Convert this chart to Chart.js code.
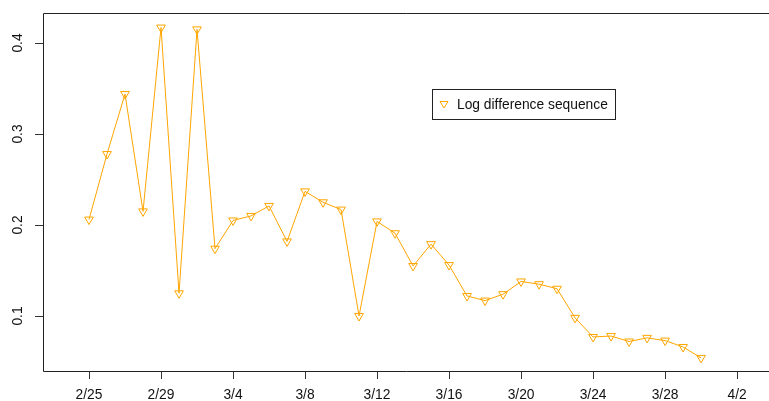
<!DOCTYPE html>
<html>
<head>
<meta charset="utf-8">
<script src="https://cdn.jsdelivr.net/npm/chart.js@4.4.1/dist/chart.umd.min.js"></script>
<style>
html, body { margin: 0; padding: 0; background: #fff; }
canvas { display: block; }
</style>
</head>
<body>
<canvas id="myChart" width="769" height="401"></canvas>
<script>
// dates of the log difference sequence (index 0 = 2/25)
const dates = ['2/25','2/26','2/27','2/28','2/29','3/1','3/2','3/3','3/4','3/5','3/6','3/7',
    '3/8','3/9','3/10','3/11','3/12','3/13','3/14','3/15','3/16','3/17','3/18','3/19',
    '3/20','3/21','3/22','3/23','3/24','3/25','3/26','3/27','3/28','3/29','3/30']
const logDiff = [0.206, 0.278, 0.344, 0.215, 0.417, 0.125, 0.415, 0.174, 0.205, 0.210, 0.221, 0.182,
    0.237, 0.225, 0.217, 0.100, 0.204, 0.191, 0.155, 0.179, 0.156, 0.122, 0.117, 0.124,
    0.138, 0.135, 0.130, 0.098, 0.077, 0.078, 0.072, 0.076, 0.073, 0.066, 0.054]
const tickIndex = [0, 4, 8, 12, 16, 20, 24, 28, 32, 36]
const tickLabels = ['2/25','2/29','3/4','3/8','3/12','3/16','3/20','3/24','3/28','4/2']
const yTicks = [0.1, 0.2, 0.3, 0.4]
const legendLabel = 'Log difference sequence'

const orange = '#FFA500'
const fontFamily = "'Liberation Sans', Arial, sans-serif"
Chart.defaults.font.family = fontFamily
Chart.defaults.font.size = 13.8
Chart.defaults.color = '#111'

// box (right side runs off the picture), rotated y labels and legend like base R
const rPlot = {
    id: 'rPlot',
    afterDraw(chart) {
        const ctx = chart.ctx
        const a = chart.chartArea
        const l = Math.round(a.left) + 0.5
        const t = Math.round(a.top) + 0.5
        const b = Math.round(a.bottom) + 0.5
        ctx.save()
        ctx.strokeStyle = '#222'
        ctx.lineWidth = 1
        ctx.beginPath()
        ctx.moveTo(chart.width, t)
        ctx.lineTo(l, t)
        ctx.lineTo(l, b)
        ctx.lineTo(chart.width, b)
        ctx.stroke()

        ctx.fillStyle = '#111'
        ctx.font = '13.8px ' + fontFamily
        ctx.textAlign = 'center'
        ctx.textBaseline = 'middle'
        yTicks.forEach(v => {
            const y = chart.scales.y.getPixelForValue(v)
            ctx.save()
            ctx.translate(18, y)
            ctx.rotate(-Math.PI / 2)
            ctx.fillText(v.toFixed(1), 0, 0)
            ctx.restore()
        })

        // legend
        ctx.fillStyle = '#fff'
        ctx.fillRect(432, 89, 183, 30)
        ctx.strokeStyle = '#222'
        ctx.strokeRect(432.5, 89.5, 183, 30)
        ctx.strokeStyle = orange
        ctx.beginPath()
        ctx.moveTo(440, 101.5)
        ctx.lineTo(448, 101.5)
        ctx.lineTo(444, 108)
        ctx.closePath()
        ctx.stroke()
        ctx.fillStyle = '#111'
        ctx.textAlign = 'left'
        ctx.fillText(legendLabel, 457, 105)
        ctx.restore()
    }
}

const ctx = document.getElementById('myChart').getContext('2d')
const myChart = new Chart(ctx, {
    type: 'line',
    data: {
        datasets: [{
            label: legendLabel,
            data: logDiff.map((v, i) => ({x: i, y: v})),
            borderColor: orange,
            borderWidth: 1,
            backgroundColor: 'rgba(0,0,0,0)',
            pointStyle: 'triangle',
            rotation: 180,
            pointRadius: 5,
            pointBorderColor: orange,
            pointBorderWidth: 1,
            pointBackgroundColor: 'rgba(0,0,0,0)',
            tension: 0
        }]
    },
    options: {
        responsive: false,
        animation: false,
        events: [],
        layout: {padding: {top: 13, right: 0, left: 0, bottom: 0}},
        plugins: {
            legend: {display: false},
            tooltip: {enabled: false}
        },
        scales: {
            x: {
                type: 'linear',
                min: -2.556,
                max: 37.44,
                afterBuildTicks: scale => { scale.ticks = tickIndex.map(v => ({value: v})) },
                afterFit: scale => {
                    scale.height = 30
                    scale.paddingLeft = 0
                    scale.paddingRight = 0
                },
                border: {display: false},
                grid: {drawOnChartArea: false, drawTicks: true, tickLength: 8, color: '#333'},
                ticks: {
                    padding: 8,
                    maxRotation: 0,
                    autoSkip: false,
                    color: '#111',
                    callback: (v) => tickLabels[tickIndex.indexOf(v)]
                }
            },
            y: {
                min: 0.0396,
                max: 0.4330,
                afterBuildTicks: scale => { scale.ticks = yTicks.map(v => ({value: v})) },
                afterFit: scale => {
                    scale.width = 43
                    scale.paddingTop = 0
                    scale.paddingBottom = 0
                },
                border: {display: false},
                grid: {drawOnChartArea: false, drawTicks: true, tickLength: 8, color: '#333'},
                ticks: {display: false}
            }
        }
    },
    plugins: [rPlot]
})
</script>
</body>
</html>
